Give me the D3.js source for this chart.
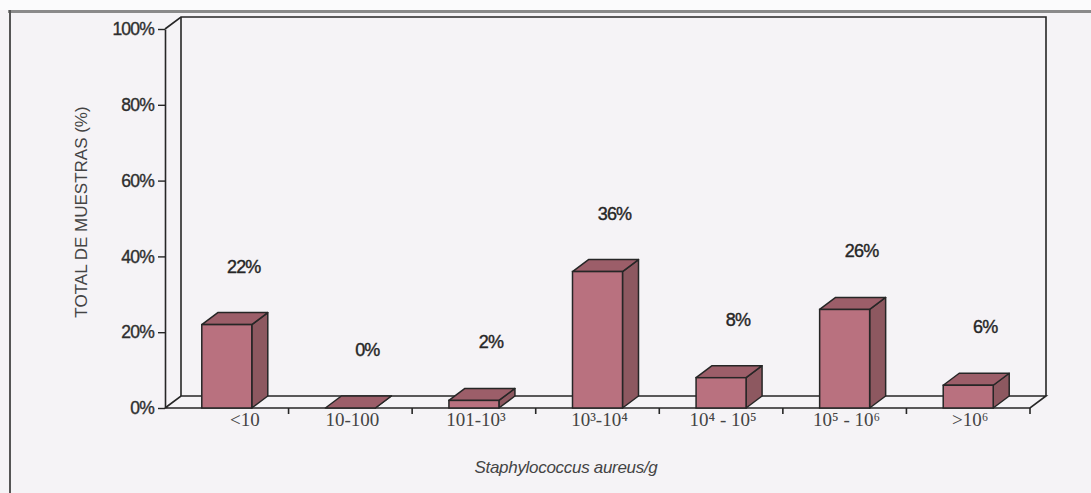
<!DOCTYPE html>
<html>
<head>
<meta charset="utf-8">
<script src="https://cdn.jsdelivr.net/npm/d3@7/dist/d3.min.js"></script>
<style>
  html, body { margin: 0; padding: 0; background: #f5f3f6; }
  svg { display: block; }
</style>
</head>
<body>
<svg id="chart" width="1091" height="493"></svg>
<script>
// Distribution of samples by Staphylococcus aureus count (CFU/g)
const categories = ["<10", "10-100", "101-10³", "10³-10⁴", "10⁴ - 10⁵", "10⁵ - 10⁶", ">10⁶"];
const percentages = [22, 0, 2, 36, 8, 26, 6];
const valueLabels = ["22%", "0%", "2%", "36%", "8%", "26%", "6%"];
const yTickValues = [0, 20, 40, 60, 80, 100];
const yTitle = "TOTAL DE MUESTRAS (%)";
const xTitle = "Staphylococcus aureus/g";

(function draw() {
  const svg = d3.select("#chart");
  const W = 1091, H = 493;

  // plot geometry (front plane) and 3-D depth offset
  const plotLeft = 165, plotRight = 1030, plotTop = 29, plotBottom = 408;
  const depthX = 16, depthY = -12;
  const barWidth = 50;

  const x = d3.scaleBand().domain(categories).range([plotLeft, plotRight]).padding(0);
  const y = d3.scaleLinear().domain([0, 100]).range([plotBottom, plotTop]);

  const ink = "#262626";
  const textFill = "#2e2e2e";

  // page background and outer frame
  svg.append("rect").attr("width", W).attr("height", H).attr("fill", "#f5f3f6");
  svg.append("rect").attr("width", W).attr("height", 10).attr("fill", "#fbfbfc");
  svg.append("line").attr("x1", 8).attr("x2", W).attr("y1", 11.5).attr("y2", 11.5)
    .attr("stroke", "#8a8a8a").attr("stroke-width", 3);
  svg.append("line").attr("x1", 10).attr("x2", 10).attr("y1", 10).attr("y2", H)
    .attr("stroke", "#555").attr("stroke-width", 2);

  // back wall edges
  const g = svg.append("g").attr("fill", "none").attr("stroke", ink).attr("stroke-width", 1.6);
  g.append("path").attr("d", d3.line()([
    [plotLeft, y(100)], [plotLeft + depthX, y(100) + depthY], [plotRight + depthX, y(100) + depthY],
    [plotRight + depthX, plotBottom + depthY]
  ]));
  g.append("line").attr("x1", plotLeft + depthX).attr("x2", plotLeft + depthX)
    .attr("y1", y(100) + depthY).attr("y2", plotBottom + depthY);

  // floor slab
  g.append("path").attr("d", d3.line()([
    [plotLeft, plotBottom], [plotLeft + depthX, plotBottom + depthY], [plotRight + depthX, plotBottom + depthY],
    [plotRight, plotBottom], [plotLeft, plotBottom]
  ]));

  // category separators on the floor front edge
  const bounds = categories.map(c => x(c)).concat([plotRight]);
  svg.append("g").selectAll("line").data(bounds.slice(1)).join("line")
    .attr("x1", d => d).attr("x2", d => d)
    .attr("y1", plotBottom).attr("y2", plotBottom + 6)
    .attr("stroke", ink).attr("stroke-width", 1.6);

  // front value axis
  const yAxis = d3.axisLeft(y)
    .tickValues(yTickValues)
    .tickFormat(d => d + "%")
    .tickSize(7)
    .tickSizeOuter(0)
    .tickPadding(4);
  const ya = svg.append("g").attr("transform", `translate(${plotLeft},0)`).call(yAxis);
  ya.select(".domain").attr("stroke", ink).attr("stroke-width", 1.6);
  ya.selectAll(".tick line").attr("stroke", ink).attr("stroke-width", 1.4);
  ya.selectAll(".tick text")
    .attr("fill", textFill)
    .attr("stroke", textFill).attr("stroke-width", 0.35)
    .attr("font-family", "Liberation Sans, Arial, sans-serif")
    .attr("font-size", 17.5)
    .attr("letter-spacing", -0.8);

  // 3-D bars
  const front = "#b9717f", topFace = "#9c5e69", side = "#8d5860";
  const bars = svg.append("g").selectAll("g").data(percentages).join("g");
  bars.each(function (v, i) {
    const gb = d3.select(this);
    const cx = x(categories[i]) + x.bandwidth() / 2;
    const x0 = cx - barWidth / 2, x1 = cx + barWidth / 2;
    const yt = y(v), yb = y(0);
    gb.append("path").attr("d", d3.line()([
      [x1, yt], [x1 + depthX, yt + depthY], [x1 + depthX, yb + depthY], [x1, yb]
    ]) + "Z").attr("fill", side).attr("stroke", ink).attr("stroke-width", 1.5)
      .attr("stroke-linejoin", "round");
    gb.append("path").attr("d", d3.line()([
      [x0, yt], [x0 + depthX, yt + depthY], [x1 + depthX, yt + depthY], [x1, yt]
    ]) + "Z").attr("fill", topFace).attr("stroke", ink).attr("stroke-width", 1.5)
      .attr("stroke-linejoin", "round");
    gb.append("rect").attr("x", x0).attr("y", yt).attr("width", barWidth).attr("height", yb - yt)
      .attr("fill", front).attr("stroke", ink).attr("stroke-width", 1.5);
  });

  // value labels above the bars
  svg.append("g").selectAll("text").data(percentages).join("text")
    .attr("x", (v, i) => x(categories[i]) + x.bandwidth() / 2 + 17)
    .attr("y", v => y(v) - 52)
    .attr("text-anchor", "middle")
    .attr("font-family", "Liberation Sans, Arial, sans-serif")
    .attr("font-size", 18)
    .attr("letter-spacing", -0.8)
    .attr("fill", "#262626")
    .attr("stroke", "#262626").attr("stroke-width", 0.4)
    .text((v, i) => valueLabels[i]);

  // category labels
  svg.append("g").selectAll("text").data(categories).join("text")
    .attr("x", (d, i) => x(d) + x.bandwidth() / 2 + (i === 0 ? 18 : 2))
    .attr("y", plotBottom + 18)
    .attr("text-anchor", "middle")
    .attr("font-family", "Liberation Serif, Times New Roman, serif")
    .attr("font-size", 19)
    .attr("fill", "#444")
    .text(d => d);

  // axis titles
  svg.append("text")
    .attr("transform", `translate(87,212) rotate(-90)`)
    .attr("text-anchor", "middle")
    .attr("font-family", "Liberation Sans, Arial, sans-serif")
    .attr("font-size", 17)
    .attr("fill", "#444")
    .text(yTitle);

  svg.append("text")
    .attr("x", 566).attr("y", 473)
    .attr("text-anchor", "middle")
    .attr("font-family", "Liberation Sans, Arial, sans-serif")
    .attr("font-style", "italic")
    .attr("font-size", 17)
    .attr("letter-spacing", -0.3)
    .attr("fill", "#444")
    .text(xTitle);
})();
</script>
</body>
</html>
